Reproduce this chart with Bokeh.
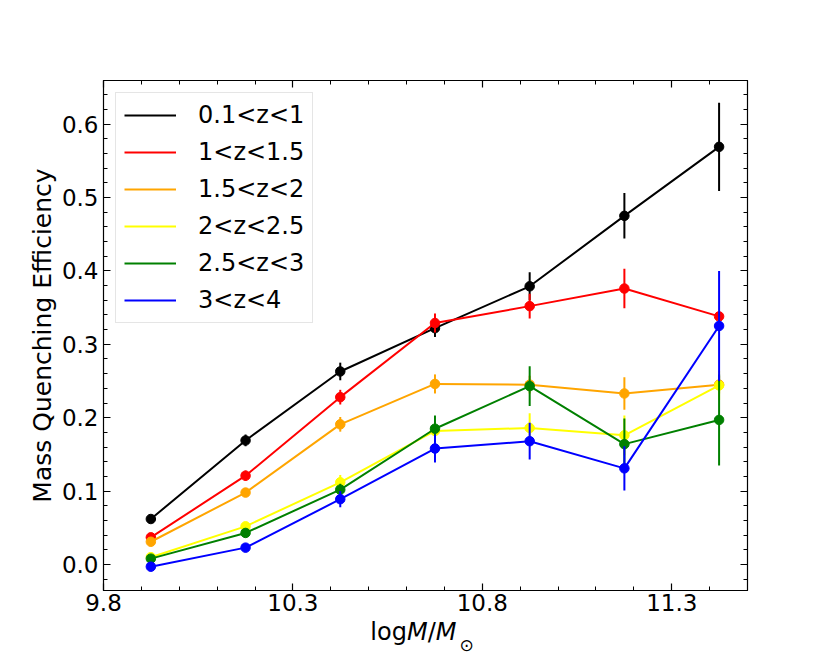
from bokeh.plotting import figure
from bokeh.models import (LinearAxis, FixedTicker, PrintfTickFormatter, CustomJSTickFormatter,
                          Legend, LegendItem, Range1d, Div)
from bokeh.layouts import column
from bokeh.embed import file_html
from bokeh.resources import INLINE

# ---------------- data ----------------
log_mass = [9.925, 10.175, 10.425, 10.675, 10.925, 11.175, 11.425]

labels = ["0.1<z<1", "1<z<1.5", "1.5<z<2", "2<z<2.5", "2.5<z<3", "3<z<4"]
colors = ["black", "red", "orange", "yellow", "green", "blue"]

eff_z0 = [0.062, 0.169, 0.263, 0.322, 0.379, 0.475, 0.569]
err_z0 = [0.005, 0.008, 0.012, 0.012, 0.019, 0.031, 0.060]
eff_z1 = [0.037, 0.121, 0.228, 0.329, 0.352, 0.376, 0.338]
err_z1 = [0.005, 0.007, 0.010, 0.013, 0.017, 0.027, 0.006]
eff_z2 = [0.031, 0.098, 0.191, 0.246, 0.245, 0.233, 0.245]
err_z2 = [0.004, 0.006, 0.010, 0.013, 0.012, 0.022, 0.012]
eff_z3 = [0.010, 0.052, 0.112, 0.182, 0.186, 0.176, 0.244]
err_z3 = [0.004, 0.006, 0.010, 0.012, 0.020, 0.027, 0.020]
eff_z4 = [0.008, 0.043, 0.102, 0.185, 0.243, 0.164, 0.197]
err_z4 = [0.004, 0.006, 0.008, 0.018, 0.027, 0.035, 0.062]
eff_z5 = [-0.003, 0.023, 0.089, 0.158, 0.168, 0.131, 0.325]
err_z5 = [0.004, 0.005, 0.011, 0.019, 0.025, 0.030, 0.075]

effs = [eff_z0, eff_z1, eff_z2, eff_z3, eff_z4, eff_z5]
errs = [err_z0, err_z1, err_z2, err_z3, err_z4, err_z5]

x_ticks = [9.8, 10.3, 10.8, 11.3]
y_ticks = [0.0, 0.1, 0.2, 0.3, 0.4, 0.5, 0.6]

# ---------------- figure ----------------
FONT = "DejaVu Sans"
p = figure(width=822, height=622, output_backend="svg", toolbar_location=None,
           x_range=Range1d(9.8, 11.5), y_range=Range1d(-0.0354, 0.6594),
           min_border_left=103, min_border_right=75, min_border_top=80, min_border_bottom=32)
p.xgrid.visible = False
p.ygrid.visible = False
p.outline_line_color = "black"
p.outline_line_width = 1.2
p.background_fill_color = "white"
p.border_fill_color = "white"

x_minor = [round(9.8 + 0.1 * i, 2) for i in range(18)]
y_minor = [round(-0.02 + 0.02 * i, 2) for i in range(35)]

def style_axis(ax, ticks, minor, show_labels):
    ax.ticker = FixedTicker(ticks=ticks, minor_ticks=minor)
    ax.major_tick_in = 7
    ax.major_tick_out = 0
    ax.minor_tick_in = 4
    ax.minor_tick_out = 0
    ax.major_tick_line_width = 1.2
    ax.minor_tick_line_width = 1
    ax.axis_line_color = "black"
    ax.major_tick_line_color = "black"
    ax.minor_tick_line_color = "black"
    ax.major_label_text_font = FONT
    ax.major_label_text_font_size = "23px"
    ax.major_label_text_color = "black"
    ax.major_label_standoff = 3
    if not show_labels:
        ax.formatter = CustomJSTickFormatter(code="return ''")
        ax.major_label_text_font_size = "1px"

xa = p.xaxis[0]
ya = p.yaxis[0]
style_axis(xa, x_ticks, x_minor, True)
style_axis(ya, y_ticks, y_minor, True)
xa.formatter = PrintfTickFormatter(format="%.1f")
ya.formatter = PrintfTickFormatter(format="%.1f")
ya.major_label_standoff = 5

ya.axis_label = "Mass Quenching Efficiency"
ya.axis_label_text_font = FONT
ya.axis_label_text_font_style = "normal"
ya.axis_label_text_font_size = "25px"
ya.axis_label_text_color = "black"
ya.axis_label_standoff = 2

top_ax = LinearAxis()
right_ax = LinearAxis()
style_axis(top_ax, x_ticks, x_minor, False)
style_axis(right_ax, y_ticks, y_minor, False)
p.add_layout(top_ax, "above")
p.add_layout(right_ax, "right")

# ---------------- series ----------------
items = []
for lab, col, ys, es in zip(labels, colors, effs, errs):
    lo = [y - e for y, e in zip(ys, es)]
    hi = [y + e for y, e in zip(ys, es)]
    p.segment(x0=log_mass, y0=lo, x1=log_mass, y1=hi, line_color=col, line_width=2)
    ln = p.line(log_mass, ys, line_color=col, line_width=2)
    p.scatter(log_mass, ys, size=9.5, fill_color=col, line_color=col)
    items.append(LegendItem(label=lab, renderers=[ln]))

legend = Legend(items=items, location="top_left")
legend.margin = 12
legend.padding = 8
legend.spacing = 9
legend.glyph_width = 52
legend.glyph_height = 26
legend.label_height = 26
legend.label_standoff = 22
legend.label_text_font = FONT
legend.label_text_font_size = "24px"
legend.label_text_color = "black"
legend.border_line_color = "#cccccc"
legend.border_line_width = 1
legend.background_fill_alpha = 0.8
p.add_layout(legend)

# ---------------- x axis label: log M/M_sun (rich text below the plot) ----------------
xlabel_html = (
    '<div style="width:844px; text-align:center; white-space:nowrap; '
    'font-family:\'DejaVu Sans\'; font-size:24px; line-height:24px; color:black; margin-top:-2px;">'
    'log<i>M</i>/<i>M</i>'
    '<span style="font-size:17px; position:relative; top:11px; margin-left:3px;">\u2299</span>'
    '</div>'
)
xlabel = Div(text=xlabel_html, width=822, height=40, margin=0)

page = column(p, xlabel, spacing=0)

open("out.html", "w").write(file_html(page, INLINE))
